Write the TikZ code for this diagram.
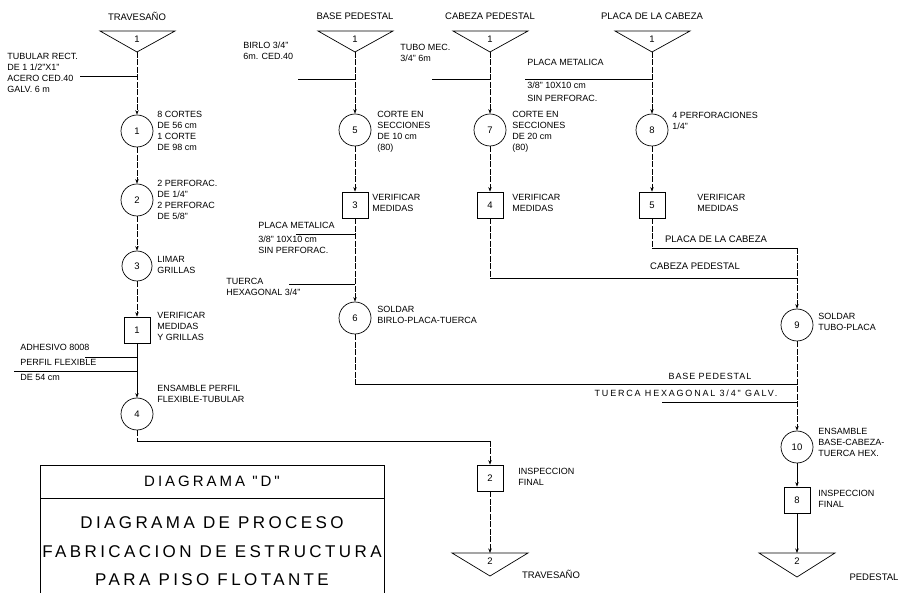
\documentclass[tikz,border=0pt]{standalone}
\usepackage{fontspec}
\setmainfont{Liberation Sans}
\newfontfamily\titlefont[LetterSpace=20]{Liberation Sans}
\newfontfamily\widefont[LetterSpace=10]{Liberation Sans}
\usetikzlibrary{arrows.meta}
\begin{document}
\begin{tikzpicture}[x=1pt,y=-1pt,line width=0.7pt,
  op/.style={circle,draw,minimum size=32pt,inner sep=0pt,font=\fontsize{9.5}{10}\selectfont},
  insp/.style={rectangle,draw,minimum size=26pt,inner sep=0pt,font=\fontsize{9.5}{10}\selectfont},
  lbl/.style={font=\fontsize{9}{11}\selectfont,align=left,inner sep=0pt,anchor=north west},
  ttl/.style={font=\fontsize{9.5}{11}\selectfont,inner sep=0pt},
  flow/.style={draw,-{Stealth[length=4.5pt,width=3.5pt]}},
  vline/.style={draw,dash pattern=on 6pt off 1.5pt},
  plain/.style={draw}]
\useasboundingbox (0,0) rectangle (919,593);
\fill[white] (0,0) rectangle (919,593);

% ---------- top triangles ----------
\node[ttl] (tlA) at (137,16) {TRAVESAÑO};
\node[ttl] (tlB) at (355,16) {BASE PEDESTAL};
\node[ttl] (tlC) at (490,16) {CABEZA PEDESTAL};
\node[ttl] (tlD) at (652,16) {PLACA DE LA CABEZA};
\coordinate (tA) at (137,52);
\coordinate (tB) at (355,52);
\coordinate (tC) at (490,52);
\coordinate (tD) at (652,52);
\draw (100,31) -- (175,31) -- (tA) -- cycle;
\draw (318,31) -- (393,31) -- (tB) -- cycle;
\draw (453,31) -- (528,31) -- (tC) -- cycle;
\draw (615,31) -- (690,31) -- (tD) -- cycle;
\node[ttl] (nA) at (137,39) {1};
\node[ttl] (nB) at (355,39) {1};
\node[ttl] (nC) at (490,39) {1};
\node[ttl] (nD) at (652,39) {1};

% ---------- column A : TRAVESAÑO ----------
\node[lbl] (mA) at (7,53) {TUBULAR RECT.\\DE 1 1/2"X1"\\ACERO CED.40\\GALV. 6 m};
\coordinate (mAe) at (137,76);
\coordinate (mAs) at (80,76);
\node[op] (o1) at (137,131) {1};
\node[lbl] (x1) at (157,111) {8 CORTES\\DE 56 cm\\1 CORTE\\DE 98 cm};
\node[op] (o2) at (137,200) {2};
\node[lbl] (x2) at (157,180) {2 PERFORAC.\\DE 1/4"\\2 PERFORAC\\DE 5/8"};
\node[op,minimum size=30pt] (o3) at (137,266) {3};
\node[lbl] (x3) at (157,256) {LIMAR\\GRILLAS};
\node[insp] (i1) at (137,330) {1};
\node[lbl] (xi1) at (157,312) {VERIFICAR\\MEDIDAS\\Y GRILLAS};
\node[lbl] (mA2) at (20,344) {ADHESIVO 8008};
\node[lbl] (mA3) at (20,359) {PERFIL FLEXIBLE};
\node[lbl] (mA4) at (20,374) {DE 54 cm};
\coordinate (mA2s) at (85,357);
\coordinate (mA2e) at (137,357);
\coordinate (mA3s) at (14,371);
\coordinate (mA3e) at (137,371);
\node[op] (o4) at (137,414) {4};
\node[lbl] (x4) at (157,385) {ENSAMBLE PERFIL\\FLEXIBLE-TUBULAR};
\coordinate (cA1) at (137,441);
\coordinate (cA2) at (490,441);
\node[insp] (i2) at (490,478) {2};
\node[lbl] (xi2) at (518,468) {INSPECCION\\FINAL};
\coordinate (eA) at (490,576);
\coordinate (eAt) at (490,553);
\draw (452,553) -- (528,553) -- (eA) -- cycle;
\node[ttl] (neA) at (490,561) {2};
\node[ttl] (leA) at (551,574) {TRAVESAÑO};

\draw[plain] (mAs) -- (mAe);
\draw[plain] (mA2s) -- (mA2e);
\draw[plain] (mA3s) -- (mA3e);
\draw[flow,vline] (tA) -- (o1);
\draw[flow,vline] (o1) -- (o2);
\draw[flow,vline] (o2) -- (o3);
\draw[flow,vline] (o3) -- (i1);
\draw[flow] (i1) -- (o4);
\draw[vline] (o4) -- (cA1);
\draw[plain] (cA1) -- (cA2);
\draw[flow,vline] (cA2) -- (i2);
\draw[flow,vline] (i2) -- (eAt);

% ---------- column B : BASE PEDESTAL ----------
\node[lbl] (mB) at (243,42) {BIRLO 3/4"\\6m. CED.40};
\coordinate (mBs) at (298,79);
\coordinate (mBe) at (355,79);
\node[op] (o5) at (355,130) {5};
\node[lbl] (x5) at (377,111) {CORTE EN\\SECCIONES\\DE 10 cm\\(80)};
\node[insp] (i3) at (355,205) {3};
\node[lbl] (xi3) at (372,194) {VERIFICAR\\MEDIDAS};
\node[lbl] (mB2) at (258,222) {PLACA METALICA};
\node[lbl] (mB2b) at (258,236) {3/8" 10X10 cm\\SIN PERFORAC.};
\coordinate (mB2s) at (296,234);
\coordinate (mB2e) at (355,234);
\node[lbl] (mB3) at (226,278) {TUERCA\\HEXAGONAL 3/4"};
\coordinate (mB3s) at (289,284);
\coordinate (mB3e) at (355,284);
\node[op] (o6) at (355,318) {6};
\node[lbl] (x6) at (377,306) {SOLDAR\\BIRLO-PLACA-TUERCA};
\coordinate (cB1) at (355,384);
\coordinate (cB2) at (797,384);

\draw[plain] (mBs) -- (mBe);
\draw[plain] (mB2s) -- (mB2e);
\draw[plain] (mB3s) -- (mB3e);
\draw[flow,vline] (tB) -- (o5);
\draw[flow,vline] (o5) -- (i3);
\draw[flow,vline] (i3) -- (o6);
\draw[vline] (o6) -- (cB1);
\draw[plain] (cB1) -- (cB2);

% ---------- column C : CABEZA PEDESTAL ----------
\node[lbl] (mC) at (400,44) {TUBO MEC.\\3/4" 6m};
\coordinate (mCs) at (432,79);
\coordinate (mCe) at (490,79);
\node[op] (o7) at (490,130) {7};
\node[lbl] (x7) at (512,111) {CORTE EN\\SECCIONES\\DE 20 cm\\(80)};
\node[insp] (i4) at (490,205) {4};
\node[lbl] (xi4) at (512,194) {VERIFICAR\\MEDIDAS};
\coordinate (cC1) at (490,278);
\coordinate (cC2) at (797,278);
\node[ttl] (lC) at (695,266) {CABEZA PEDESTAL};

\draw[plain] (mCs) -- (mCe);
\draw[flow,vline] (tC) -- (o7);
\draw[flow,vline] (o7) -- (i4);
\draw[vline] (i4) -- (cC1);
\draw[plain] (cC1) -- (cC2);

% ---------- column D : PLACA DE LA CABEZA ----------
\node[lbl] (mD) at (527,59) {PLACA METALICA};
\node[lbl,font=\fontsize{9}{13}\selectfont] (mD2) at (527,82) {3/8" 10X10 cm\\SIN PERFORAC.};
\coordinate (mDs) at (525,79);
\coordinate (mDe) at (652,79);
\node[op] (o8) at (652,130) {8};
\node[lbl] (x8) at (672,112) {4 PERFORACIONES\\1/4"};
\node[insp] (i5) at (652,205) {5};
\node[lbl] (xi5) at (697,194) {VERIFICAR\\MEDIDAS};
\coordinate (cD1) at (652,248);
\coordinate (cD2) at (797,248);
\node[ttl] (lD) at (716,239) {PLACA DE LA CABEZA};

\draw[plain] (mDs) -- (mDe);
\draw[flow,vline] (tD) -- (o8);
\draw[flow,vline] (o8) -- (i5);
\draw[vline] (i5) -- (cD1);
\draw[plain] (cD1) -- (cD2);

% ---------- assembly column ----------
\node[op] (o9) at (797,325) {9};
\node[lbl] (x9) at (818,313) {SOLDAR\\TUBO-PLACA};
\draw[flow,vline] (cD2) -- (o9);
\node[ttl,font=\widefont\fontsize{9}{11}\selectfont] (lB) at (710,376) {BASE PEDESTAL};
\node[ttl,font=\titlefont\fontsize{9}{11}\selectfont] (lT) at (686,393) {TUERCA HEXAGONAL 3/4" GALV.};
\coordinate (mTs) at (662,402);
\coordinate (mTe) at (797,402);
\draw[plain] (mTs) -- (mTe);
\node[op] (o10) at (797,447) {10};
\node[lbl] (x10) at (818,428) {ENSAMBLE\\BASE-CABEZA-\\TUERCA HEX.};
\draw[flow,vline] (o9) -- (o10);
\node[insp] (i8) at (797,500) {8};
\node[lbl] (xi8) at (818,490) {INSPECCION\\FINAL};
\draw[flow] (o10) -- (i8);
\coordinate (eB) at (797,577);
\coordinate (eBt) at (797,553);
\draw (759,553) -- (835,553) -- (eB) -- cycle;
\node[ttl] (neB) at (797,561) {2};
\node[ttl] (leB) at (874,577) {PEDESTAL};
\draw[flow] (i8) -- (eBt);

% ---------- title block ----------
\draw (40,593) -- (40,465) -- (384,465) -- (384,593);
\draw (40,498) -- (384,498);
\node[font=\titlefont\fontsize{15}{17}\selectfont,inner sep=0pt] (tt0) at (212,481) {DIAGRAMA "D"};
\node[font=\titlefont\fontsize{17}{19}\selectfont,inner sep=0pt] (tt1) at (212,523) {DIAGRAMA DE PROCESO};
\node[font=\titlefont\fontsize{17}{19}\selectfont,inner sep=0pt] (tt2) at (212,552) {FABRICACION DE ESTRUCTURA};
\node[font=\titlefont\fontsize{17}{19}\selectfont,inner sep=0pt] (tt3) at (212,580) {PARA PISO FLOTANTE};
\end{tikzpicture}
\end{document}
